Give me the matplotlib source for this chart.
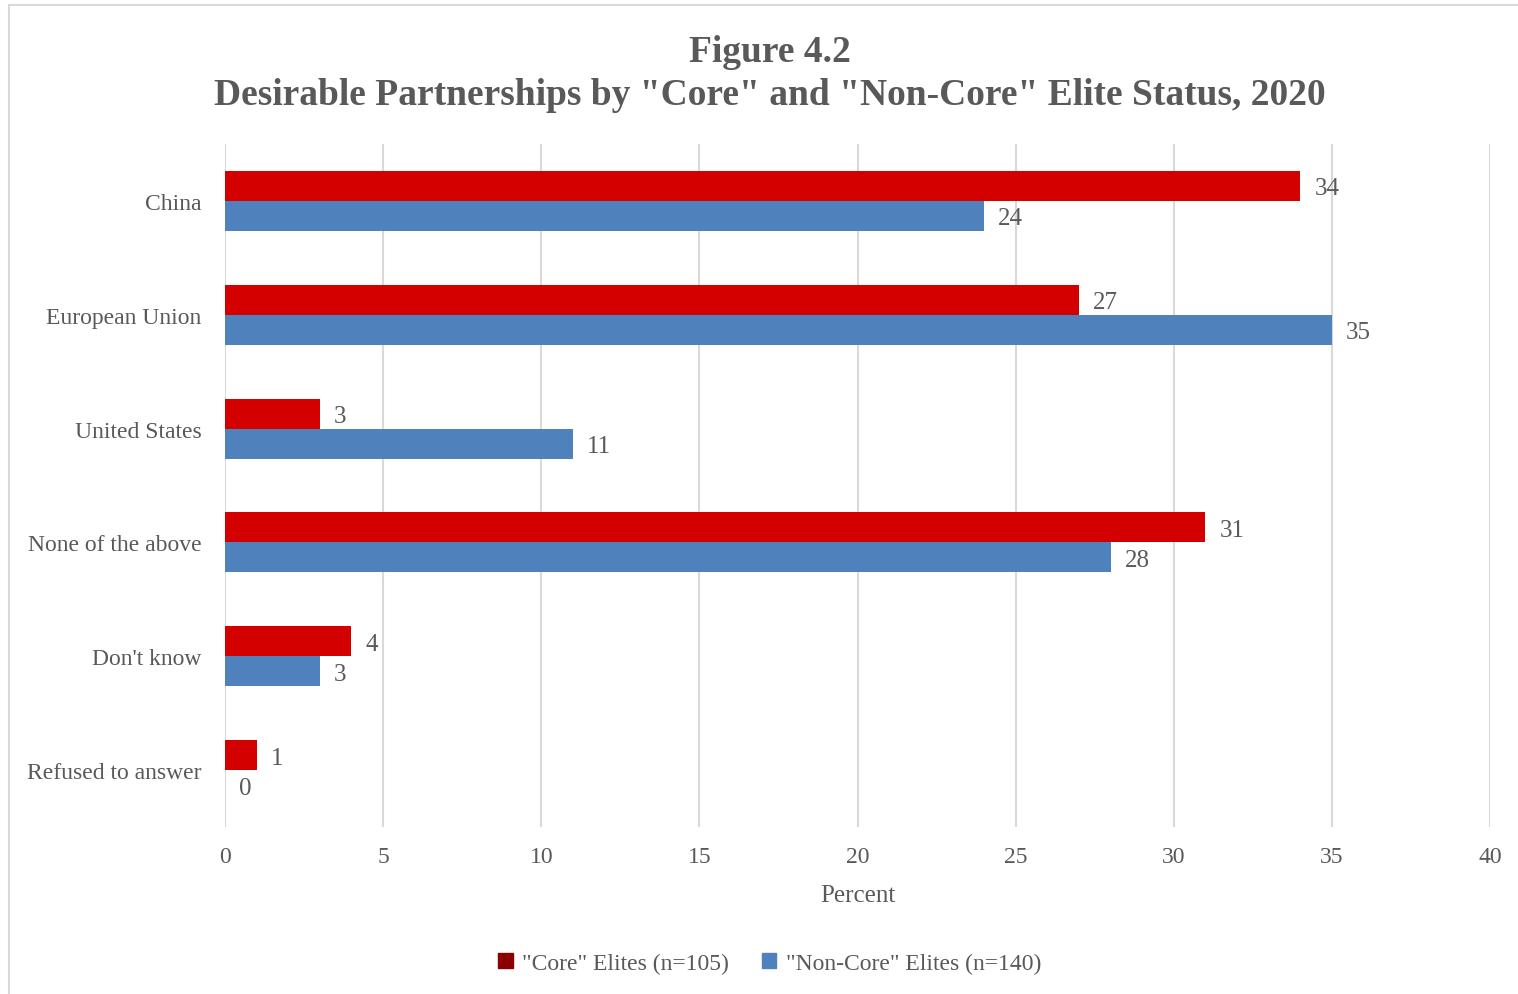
import numpy as np
import matplotlib
matplotlib.use("Agg")
import matplotlib.pyplot as plt
from matplotlib.patches import Patch, Rectangle

categories = ["China", "European Union", "United States", "None of the above", "Don't know", "Refused to answer"]
core = [34, 27, 3, 31, 4, 1]
non_core = [24, 35, 11, 28, 3, 0]
series_labels = ['"Core" Elites (n=105)', '"Non-Core" Elites (n=140)']

plt.rcParams['font.family'] = ['Liberation Serif', 'DejaVu Serif']
gray = "#595959"

fig = plt.figure(figsize=(15.18, 9.95), dpi=100)
ax = fig.add_axes([0.1482, 0.1678, 0.8334, 0.6865])

# frame around the chart (partly cut off at right/bottom like the reference)
fig.patches.append(Rectangle((9 / 1518, -0.05), 1.2, 1 - 6 / 995 + 0.05, transform=fig.transFigure,
                             fill=False, edgecolor="#d9d9d9", linewidth=1.5))

y = np.arange(len(categories))
h = 0.263
r1 = ax.barh(y - h / 2, core, h, color="#d40000", label=series_labels[0], zorder=3)
r2 = ax.barh(y + h / 2, non_core, h, color="#4f81bd", label=series_labels[1], zorder=3)

for rects, vals in [(r1, core), (r2, non_core)]:
    for rect, v in zip(rects, vals):
        ax.text(v + 0.45, rect.get_y() + rect.get_height() / 2, str(v), va="center_baseline", ha="left",
                fontsize=18, color=gray)

ax.set_ylim(len(categories) - 0.5, -0.5)
ax.set_xlim(0, 40)
ax.set_xticks(range(0, 41, 5))
ax.set_yticks(y)
ax.set_yticklabels(categories)
ax.xaxis.grid(True, color="#d9d9d9", linewidth=1.5, zorder=0)
ax.set_axisbelow(True)
for s in ax.spines.values():
    s.set_visible(False)
ax.tick_params(axis="both", length=0, labelsize=17, labelcolor=gray)
ax.tick_params(axis="y", pad=17)
ax.tick_params(axis="x", pad=14)
ax.set_xlabel("Percent", fontsize=18, color=gray, labelpad=12)

fig.text(0.507, 0.947, "Figure 4.2", ha="center", va="center", fontsize=27, fontweight="bold", color=gray)
fig.text(0.507, 0.904, 'Desirable Partnerships by "Core" and "Non-Core" Elite Status, 2020', ha="center",
         va="center", fontsize=27, fontweight="bold", color=gray)

handles = [Patch(color="#8b0000"), Patch(color="#4f81bd")]
fig.legend(handles, series_labels, loc="center", bbox_to_anchor=(0.507, 0.031), ncol=2, frameon=False,
           fontsize=17, labelcolor=gray, handlelength=0.6, handleheight=0.6, handletextpad=0.4,
           columnspacing=1.4)

fig.savefig("out.png", dpi=100)
